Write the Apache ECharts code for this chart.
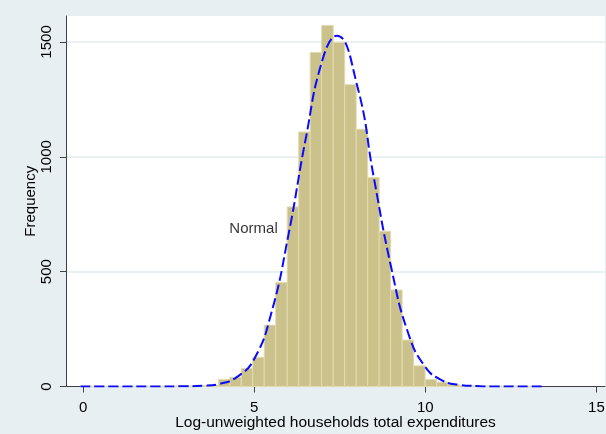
<!DOCTYPE html>
<html>
<head>
<meta charset="utf-8">
<script src="https://cdn.jsdelivr.net/npm/echarts@6/dist/echarts.min.js"></script>
<style>
  html, body { margin: 0; padding: 0; background: #e8eff2; }
  #chart { width: 606px; height: 434px; }
</style>
</head>
<body>
<div id="chart"></div>
<script>
// Histogram of log household expenditures: 40 equal-width bins
const binStart = -0.08;
const binWidth = 0.3358;
const binCounts = [
  1, 1, 0, 0, 1, 1, 1, 1, 2, 2,
  3, 5, 31, 40, 79, 127, 267, 453, 782, 1108,
  1454, 1572, 1498, 1314, 1120, 910, 676, 420, 202, 90,
  31, 19, 8, 4, 3, 2, 1, 2, 1, 1
];

// Overlaid normal density (scaled to frequency)
const normalX = [-0.08, 1, 2, 3, 3.5, 4, 4.5, 5, 5.5, 6, 6.5, 7, 7.41, 8, 8.5, 9, 9.5, 10, 10.5, 11, 11.5, 12, 13.4];
const normalY = [0, 0, 0, 1, 3, 12, 42, 120, 320, 660, 1075, 1425, 1527, 1315, 905, 520, 232, 85, 26, 7, 2, 0, 0];

// Axis ticks
const xTicks = [0, 5, 10, 15];
const yTicks = [0, 500, 1000, 1500];

const xTitle = 'Log-unweighted households total expenditures';
const yTitle = 'Frequency';
const curveLabel = { text: 'Normal', x: 4.98, y: 685 };

const histData = binCounts.map((c, i) => [binStart + i * binWidth, binStart + (i + 1) * binWidth, c]);
const curveData = normalX.map((x, i) => [x, normalY[i]]);

const font = "'Liberation Sans', Arial, sans-serif";
const chart = echarts.init(document.getElementById('chart'), null, { renderer: 'canvas' });

chart.setOption({
  backgroundColor: '#e8eff2',
  animation: false,
  grid: {
    left: 66, right: 1, top: 16, bottom: 47.5,
    containLabel: false, outerBoundsMode: 'none',
    show: true, backgroundColor: '#ffffff', borderWidth: 0
  },
  xAxis: {
    type: 'value', min: -0.5, max: 15.25,
    name: xTitle, nameLocation: 'middle', nameGap: 28, nameMoveOverlap: false,
    nameTextStyle: { fontFamily: font, fontSize: 15.5, color: '#000' },
    axisLine: { show: true, onZero: false, lineStyle: { color: '#404040', width: 1 } },
    axisTick: { show: true, length: 6, customValues: xTicks, lineStyle: { color: '#404040' } },
    axisLabel: { customValues: xTicks, margin: 14, fontFamily: font, fontSize: 15, color: '#000' },
    splitLine: { show: false }
  },
  yAxis: {
    type: 'value', min: 0, max: 1613,
    name: yTitle, nameLocation: 'middle', nameGap: 28, nameRotate: 90, nameMoveOverlap: false,
    nameTextStyle: { fontFamily: font, fontSize: 15, color: '#000' },
    axisLine: { show: true, onZero: false, lineStyle: { color: '#404040', width: 1 } },
    axisTick: { show: true, length: 6, customValues: yTicks, lineStyle: { color: '#404040' } },
    axisLabel: {
      customValues: yTicks, rotate: 90, margin: 12, fontFamily: font, fontSize: 15, color: '#000',
      formatter: v => String(v)
    },
    splitLine: { show: true, lineStyle: { color: '#e3ecef', width: 1.5 } }
  },
  series: [
    {
      type: 'custom',
      data: histData,
      encode: { x: [0, 1], y: 2 },
      renderItem: function (params, api) {
        const p0 = api.coord([api.value(0), api.value(2)]);
        const p1 = api.coord([api.value(1), 0]);
        return {
          type: 'rect',
          shape: { x: p0[0], y: p0[1], width: p1[0] - p0[0], height: p1[1] - p0[1] },
          style: { fill: '#cbc18a', stroke: '#e2dbb0', lineWidth: 1 }
        };
      },
      z: 2
    },
    {
      type: 'line',
      data: curveData,
      smooth: true,
      showSymbol: false,
      lineStyle: { color: '#0a0aff', width: 2, type: [10, 4] },
      z: 3
    },
    {
      type: 'scatter',
      data: [[curveLabel.x, curveLabel.y]],
      symbolSize: 0,
      label: {
        show: true, position: 'inside', formatter: curveLabel.text,
        fontFamily: font, fontSize: 15, color: '#000'
      },
      z: 4
    }
  ]
});
</script>
</body>
</html>
